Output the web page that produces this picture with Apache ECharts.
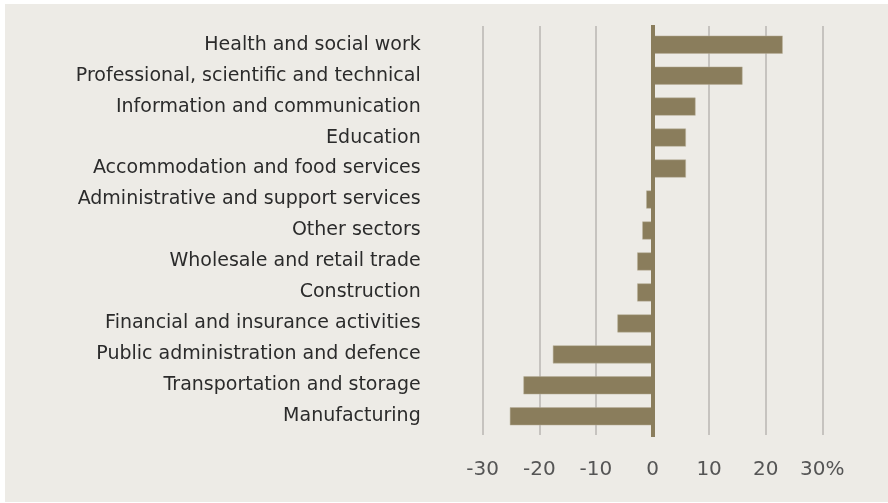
<!DOCTYPE html>
<html>
<head>
<meta charset="utf-8">
<script src="https://cdn.jsdelivr.net/npm/echarts@6/dist/echarts.min.js"></script>
<style>
html,body{margin:0;padding:0;background:#ffffff;}
#chart{width:888px;height:503px;}
</style>
</head>
<body>
<div id="chart"></div>
<script>
const categories = [
  "Health and social work",
  "Professional, scientific and technical",
  "Information and communication",
  "Education",
  "Accommodation and food services",
  "Administrative and support services",
  "Other sectors",
  "Wholesale and retail trade",
  "Construction",
  "Financial and insurance activities",
  "Public administration and defence",
  "Transportation and storage",
  "Manufacturing"
];
const values = [23.0, 15.9, 7.6, 5.9, 5.9, -1.1, -1.8, -2.7, -2.7, -6.2, -17.6, -22.8, -25.2];
const tickLabels = {"-30": "-30", "-20": "-20", "-10": "-10", "0": "0", "10": "10", "20": "20", "30": "30%"};

const barColor = "#8a7d5c";
const font = "DejaVu Sans";
const chart = echarts.init(document.getElementById('chart'), null, {renderer: 'canvas'});
const catsRev = categories.slice().reverse();
const valsRev = values.slice().reverse();

chart.setOption({
  backgroundColor: '#ffffff',
  animation: false,
  graphic: [{
    type: 'rect', left: 5, top: 4, z: -10,
    shape: {width: 883, height: 498},
    style: {fill: '#edebe6'}
  }],
  grid: [
    {left: 482.7, right: 65.7, top: 29.2, bottom: 71.2, containLabel: false},
    {left: 482.7, right: 65.7, top: 26, bottom: 68, containLabel: false},
    {left: 482.7, right: 65.7, top: 25, bottom: 66, containLabel: false}
  ],
  xAxis: [
    {gridIndex: 0, type: 'value', min: -30, max: 30, interval: 10,
     axisLine: {show: false}, axisTick: {show: false}, axisLabel: {show: false}, splitLine: {show: false}},
    {gridIndex: 1, type: 'value', min: -30, max: 30, interval: 10,
     axisLine: {show: false}, axisTick: {show: false},
     axisLabel: {show: true, margin: 25, color: '#555555', fontFamily: font, fontSize: 20,
       formatter: v => tickLabels[String(v)]},
     splitLine: {show: true, lineStyle: {color: '#b8b6b2', width: 1.5}}},
    {gridIndex: 2, type: 'value', min: -30, max: 30, interval: 10,
     axisLine: {show: false}, axisTick: {show: false}, axisLabel: {show: false}, splitLine: {show: false}}
  ],
  yAxis: [
    {gridIndex: 0, type: 'category', data: catsRev,
     axisLine: {show: false, onZero: false}, axisTick: {show: false},
     axisLabel: {margin: 62, color: '#2b2b2b', fontFamily: font, fontSize: 19, align: 'right'}},
    {gridIndex: 1, type: 'category', data: catsRev,
     axisLine: {show: false}, axisTick: {show: false}, axisLabel: {show: false}},
    {gridIndex: 2, type: 'category', data: catsRev, z: 5,
     axisLine: {show: true, onZero: true, lineStyle: {color: barColor, width: 4, cap: 'butt'}},
     axisTick: {show: false}, axisLabel: {show: false}}
  ],
  series: [{
    type: 'bar', xAxisIndex: 0, yAxisIndex: 0,
    data: valsRev, barWidth: 18,
    itemStyle: {color: barColor, borderColor: '#b9b09a', borderWidth: 0.5}
  }]
});
</script>
</body>
</html>
